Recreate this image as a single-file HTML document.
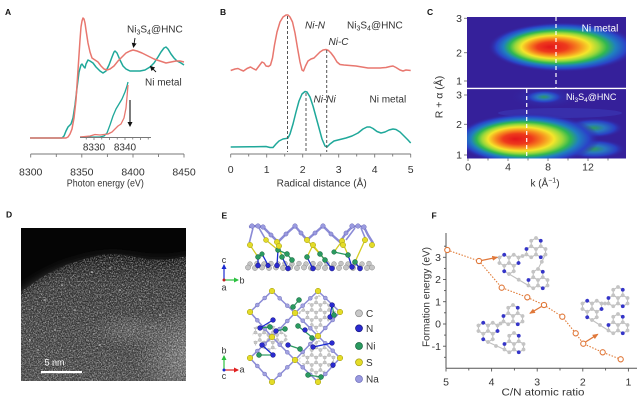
<!DOCTYPE html>
<html><head><meta charset="utf-8"><style>
html,body{margin:0;padding:0;background:#fff}
svg{display:block}
text{font-family:"Liberation Sans",Arial,sans-serif}
</style></head><body>
<svg width="640" height="400" viewBox="0 0 640 400" xmlns="http://www.w3.org/2000/svg">
<defs>
  <marker id="mk" markerWidth="5" markerHeight="5" refX="4" refY="2.5" orient="auto" markerUnits="userSpaceOnUse"><path d="M0,0 L5,2.5 L0,5 z" fill="#111"/></marker>
  <marker id="mo" markerWidth="6" markerHeight="6" refX="5" refY="3" orient="auto" markerUnits="userSpaceOnUse"><path d="M0,0.5 L6,3 L0,5.5 z" fill="#e0783a"/></marker>
  <marker id="mb" markerWidth="5" markerHeight="5" refX="4" refY="2.5" orient="auto" markerUnits="userSpaceOnUse"><path d="M0,0 L5,2.5 L0,5 z" fill="#1a2ad0"/></marker>
  <marker id="mg" markerWidth="5" markerHeight="5" refX="4" refY="2.5" orient="auto" markerUnits="userSpaceOnUse"><path d="M0,0 L5,2.5 L0,5 z" fill="#2cc040"/></marker>
  <marker id="mr" markerWidth="5" markerHeight="5" refX="4" refY="2.5" orient="auto" markerUnits="userSpaceOnUse"><path d="M0,0 L5,2.5 L0,5 z" fill="#e02020"/></marker>

  <radialGradient id="hmA" cx="0.5" cy="0.5" r="0.5" fx="0.41" fy="0.5">
    <stop offset="0" stop-color="#e3161b"/>
    <stop offset="0.2" stop-color="#ee3a1c"/>
    <stop offset="0.34" stop-color="#f7901f"/>
    <stop offset="0.46" stop-color="#f5e52b"/>
    <stop offset="0.56" stop-color="#9ad83a"/>
    <stop offset="0.65" stop-color="#30b850"/>
    <stop offset="0.75" stop-color="#1f7fc0"/>
    <stop offset="0.87" stop-color="#2a44c8"/>
    <stop offset="1" stop-color="#35209a" stop-opacity="0"/>
  </radialGradient>
  <radialGradient id="hmB" cx="0.5" cy="0.5" r="0.5">
    <stop offset="0" stop-color="#2f9a62"/>
    <stop offset="0.35" stop-color="#2a78c0"/>
    <stop offset="0.7" stop-color="#2a40c4"/>
    <stop offset="1" stop-color="#35209a" stop-opacity="0"/>
  </radialGradient>
  <radialGradient id="hmC" cx="0.5" cy="0.5" r="0.5">
    <stop offset="0" stop-color="#2848c8"/>
    <stop offset="1" stop-color="#35209a" stop-opacity="0"/>
  </radialGradient>
  <clipPath id="ct"><rect x="467" y="17" width="159" height="71"/></clipPath>
  <clipPath id="cb"><rect x="467" y="89" width="159" height="69.5"/></clipPath>

  <clipPath id="dimg"><rect x="21" y="228" width="165" height="153"/></clipPath>
  <clipPath id="dreg"><path d="M21,292 C35,281 55,268 75,262 C95,255 110,252 130,256 C150,260 165,262 186,256 L186,381 L21,381 Z"/></clipPath>
  <linearGradient id="dg" gradientUnits="userSpaceOnUse" x1="0" y1="252" x2="0" y2="381">
    <stop offset="0" stop-color="#1a1a1a"/>
    <stop offset="0.25" stop-color="#3e3e3e"/>
    <stop offset="1" stop-color="#505050"/>
  </linearGradient>
  <radialGradient id="dbr" cx="0.5" cy="0.5" r="0.5">
    <stop offset="0" stop-color="#fff" stop-opacity="0.35"/>
    <stop offset="1" stop-color="#fff" stop-opacity="0"/>
  </radialGradient>
  <filter id="blur5" x="-0.2" y="-0.2" width="1.4" height="1.4"><feGaussianBlur stdDeviation="5"/></filter>
  <filter id="spk" filterUnits="userSpaceOnUse" x="21" y="228" width="165" height="153">
    <feTurbulence type="fractalNoise" baseFrequency="0.75" numOctaves="2" seed="7"/>
    <feColorMatrix type="matrix" values="0 0 0 0 1  0 0 0 0 1  0 0 0 0 1  2.8 0 0 0 -1.15"/>
  </filter>
  <filter id="spk2" filterUnits="userSpaceOnUse" x="21" y="228" width="165" height="153">
    <feTurbulence type="fractalNoise" baseFrequency="0.8" numOctaves="2" seed="21"/>
    <feColorMatrix type="matrix" values="0 0 0 0 0  0 0 0 0 0  0 0 0 0 0  0 2.8 0 0 -1.15"/>
  </filter>

  <pattern id="hexp" patternUnits="userSpaceOnUse" width="8.66" height="15" x="0" y="0">
    <g stroke="#cfcfcf" stroke-width="1" fill="none">
      <line x1="0" y1="5" x2="4.33" y2="2.5"/><line x1="0" y1="5" x2="0" y2="10"/>
      <line x1="0" y1="10" x2="4.33" y2="12.5"/><line x1="4.33" y1="2.5" x2="8.66" y2="5"/>
      <line x1="4.33" y1="12.5" x2="8.66" y2="10"/><line x1="8.66" y1="5" x2="8.66" y2="10"/>
      <line x1="4.33" y1="2.5" x2="4.33" y2="0"/><line x1="4.33" y1="12.5" x2="4.33" y2="15"/>
    </g>
    <g fill="#c8c8c8" stroke="#a5a5a5" stroke-width="0.4">
      <circle cx="0" cy="5" r="1.6"/><circle cx="0" cy="10" r="1.6"/>
      <circle cx="8.66" cy="5" r="1.6"/><circle cx="8.66" cy="10" r="1.6"/>
      <circle cx="4.33" cy="2.5" r="1.6"/><circle cx="4.33" cy="12.5" r="1.6"/>
    </g>
  </pattern>

  <g id="hz">
    <g stroke="#c0c0c0" stroke-width="1.1" fill="none">
      <polygon points="4.76,8.25 0,5.5 0,0 4.76,-2.75 9.53,0 9.53,5.5"/>
      <polygon points="-4.76,8.25 -9.53,5.5 -9.53,0 -4.76,-2.75 0,0 0,5.5"/>
      <polygon points="0,0 -4.76,-2.75 -4.76,-8.25 0,-11 4.76,-8.25 4.76,-2.75"/>
    </g>
    <g fill="#c4c4c4">
      <circle cx="0" cy="0" r="1.9"/><circle cx="0" cy="5.5" r="1.9"/><circle cx="-4.76" cy="-2.75" r="1.9"/><circle cx="4.76" cy="-2.75" r="1.9"/>
      <circle cx="-4.76" cy="8.25" r="1.9"/><circle cx="9.53" cy="5.5" r="1.9"/><circle cx="-9.53" cy="5.5" r="1.9"/>
      <circle cx="0" cy="-11" r="1.9"/><circle cx="9.53" cy="0" r="1.9"/><circle cx="-4.76" cy="-8.25" r="1.9"/>
    </g>
    <g fill="#3535c8">
      <circle cx="4.76" cy="8.25" r="1.9"/><circle cx="-9.53" cy="0" r="1.9"/><circle cx="4.76" cy="-8.25" r="1.9"/>
    </g>
  </g>
</defs>

<!-- ================= PANEL A ================= -->
<text x="5" y="15" font-size="8.5" font-weight="bold" fill="#111">A</text>
<polyline fill="none" stroke="#1fa89a" stroke-width="1.5" stroke-linejoin="round" points="30,138 62,138 64,136 66,131 68,127 71,124 73,118 75,105 77,88 79,72 81,65 82,64 84,67 85,68 86,64 88,60 90,61 93,63 96,67 100,71 103,73 106,71 109,65 112,57 114,52 115,51 117,53 120,60 123,66 126,69 130,71 135,71 140,71 145,70 150,67 154,63 158,57 161,52 164,48 166,47 168,49 171,54 174,58 177,61 181,63 184,65"/>
<polyline fill="none" stroke="#e8776f" stroke-width="1.5" stroke-linejoin="round" points="30,138 66,138 68,137 70,134 72,129 74,118 76,100 78,70 80,40 81,27 82,21 83,18 84,19 85,23 86,30 88,43 90,52 92,58 95,60 98,62 101,66 104,69 107,70 110,69 114,66 118,61 122,57 126,53 130,51 133,50 137,51 142,53 148,56 154,59 160,61 166,63 171,62 176,61 180,61 184,62"/>
<!-- inset -->
<polyline fill="none" stroke="#1fa89a" stroke-width="1.3" stroke-linejoin="round" points="80,137 100,137 104,136 107,133 110,125 113,116 116,109 119,104 122,99 125,92 127,86 128,82"/>
<polyline fill="none" stroke="#e8776f" stroke-width="1.3" stroke-linejoin="round" points="80,137 90,136 95,134.5 100,135 108,134 112,132 115,129 118,126 121,124 124,118 126,108 127,97 128,85"/>
<line x1="80" y1="137.5" x2="151" y2="137.5" stroke="#777" stroke-width="0.9"/>
<g stroke="#777" stroke-width="0.8">
  <line x1="86.25" y1="137.5" x2="86.25" y2="139.5"/><line x1="94" y1="137.5" x2="94" y2="140"/><line x1="101.75" y1="137.5" x2="101.75" y2="139.5"/>
  <line x1="109.5" y1="137.5" x2="109.5" y2="140"/><line x1="117.25" y1="137.5" x2="117.25" y2="139.5"/><line x1="125" y1="137.5" x2="125" y2="140"/>
  <line x1="132.75" y1="137.5" x2="132.75" y2="139.5"/><line x1="140.5" y1="137.5" x2="140.5" y2="140"/><line x1="148.25" y1="137.5" x2="148.25" y2="139.5"/>
</g>
<text x="94" y="150.5" font-size="10" fill="#333" text-anchor="middle">8330</text>
<text x="125" y="150.5" font-size="10" fill="#333" text-anchor="middle">8340</text>
<line x1="130" y1="100" x2="130" y2="126" stroke="#111" stroke-width="1.1" marker-end="url(#mk)"/>
<!-- axis A -->
<line x1="30.7" y1="154" x2="184" y2="154" stroke="#777" stroke-width="1"/>
<g stroke="#777" stroke-width="0.9">
  <line x1="30.7" y1="154" x2="30.7" y2="157.5"/><line x1="56.3" y1="154" x2="56.3" y2="157"/><line x1="81.8" y1="154" x2="81.8" y2="157.5"/>
  <line x1="107.4" y1="154" x2="107.4" y2="157"/><line x1="133" y1="154" x2="133" y2="157.5"/><line x1="158.5" y1="154" x2="158.5" y2="157"/><line x1="184" y1="154" x2="184" y2="157.5"/>
</g>
<g font-size="10.5" fill="#333" text-anchor="middle">
  <text x="30.7" y="175.5">8300</text><text x="81.8" y="175.5">8350</text><text x="133" y="175.5">8400</text><text x="184" y="175.5">8450</text>
</g>
<text x="105.3" y="186.5" font-size="10" fill="#333" text-anchor="middle" textLength="77" lengthAdjust="spacingAndGlyphs">Photon energy (eV)</text>
<text x="127" y="32.5" font-size="10" fill="#333">Ni<tspan font-size="7" dy="2">3</tspan><tspan dy="-2">S</tspan><tspan font-size="7" dy="2">4</tspan><tspan dy="-2">@HNC</tspan></text>
<line x1="135" y1="38" x2="133.5" y2="47" stroke="#111" stroke-width="0.9" marker-end="url(#mk)"/>
<text x="145" y="85.3" font-size="10" fill="#333">Ni metal</text>
<line x1="156" y1="72" x2="150.5" y2="66.5" stroke="#111" stroke-width="0.9" marker-end="url(#mk)"/>

<!-- ================= PANEL B ================= -->
<text x="220" y="15" font-size="8.5" font-weight="bold" fill="#111">B</text>
<polyline fill="none" stroke="#e8776f" stroke-width="1.5" stroke-linejoin="round" points="230.7,70.5 235,69 238,68.5 241,70 243.5,71 247,68.5 250.5,67 253,68.5 256,70 259,66 262,62 264,63 266,66 268.5,66.5 270.5,65 272.5,58 274.5,45 277,32 280,22 283,17 286,15 288,15 290,17 292.5,22 295,33 297.5,48 300,62 302,70 303.5,71 305.5,66 308,61 311,59 314,58 317,55 320,52 323,50 326,49.5 328.5,50.5 331,53 334,57 337,62 340,64.5 344,65 350,65.5 356,66 362,67 368,68 374,68 380,68 386,67.5 390,66.5 393,66 396,67.5 400,70 403,71 406,70 410.7,70.5"/>
<polyline fill="none" stroke="#1fa89a" stroke-width="1.5" stroke-linejoin="round" points="230.7,147 250,146.8 266,146.5 270,147.5 273,147.5 276,144 279,141 283,139 286,138.5 288,138 290,134 293,124 296,112 299,101 302,94 305,91.5 307,92 310,97 313,106 316,117 319,128 322,139 325,146 327,147 330,144 334,141 340,139.5 346,138 352,136 358,133 363,129 367,127 370,127 373,128.5 377,131.5 381,133 385,132 389,130 393,129 396,129.5 400,132 404,136 408,140 410.7,143"/>
<g stroke="#555" stroke-width="1" stroke-dasharray="3,2">
  <line x1="287.5" y1="16" x2="287.5" y2="152"/>
  <line x1="306" y1="93" x2="306" y2="152"/>
  <line x1="326.7" y1="50" x2="326.7" y2="152"/>
</g>
<line x1="230.7" y1="154" x2="410.7" y2="154" stroke="#777" stroke-width="1"/>
<g stroke="#777" stroke-width="0.9">
  <line x1="230.7" y1="154" x2="230.7" y2="157.5"/><line x1="248.7" y1="154" x2="248.7" y2="156.5"/><line x1="266.7" y1="154" x2="266.7" y2="157.5"/>
  <line x1="284.7" y1="154" x2="284.7" y2="156.5"/><line x1="302.7" y1="154" x2="302.7" y2="157.5"/><line x1="320.7" y1="154" x2="320.7" y2="156.5"/>
  <line x1="338.7" y1="154" x2="338.7" y2="157.5"/><line x1="356.7" y1="154" x2="356.7" y2="156.5"/><line x1="374.7" y1="154" x2="374.7" y2="157.5"/>
  <line x1="392.7" y1="154" x2="392.7" y2="156.5"/><line x1="410.7" y1="154" x2="410.7" y2="157.5"/>
</g>
<g font-size="10.5" fill="#333" text-anchor="middle">
  <text x="230.7" y="173">0</text><text x="266.7" y="173">1</text><text x="302.7" y="173">2</text><text x="338.7" y="173">3</text><text x="374.7" y="173">4</text><text x="410.7" y="173">5</text>
</g>
<text x="321.7" y="186.5" font-size="10" fill="#333" text-anchor="middle" textLength="90" lengthAdjust="spacingAndGlyphs">Radical distance (Å)</text>
<text x="305" y="28.5" font-size="10" font-style="italic" fill="#333">Ni-N</text>
<text x="347" y="28.5" font-size="10" fill="#333">Ni<tspan font-size="7" dy="2">3</tspan><tspan dy="-2">S</tspan><tspan font-size="7" dy="2">4</tspan><tspan dy="-2">@HNC</tspan></text>
<text x="328.5" y="45" font-size="10" font-style="italic" fill="#333">Ni-C</text>
<text x="313.5" y="102.5" font-size="10" font-style="italic" fill="#333">Ni-Ni</text>
<text x="369.5" y="102.5" font-size="10" fill="#333">Ni metal</text>

<!-- ================= PANEL C ================= -->
<text x="427" y="15" font-size="8.5" font-weight="bold" fill="#111">C</text>
<g clip-path="url(#ct)">
  <rect x="467" y="17" width="159" height="71" fill="#35209a"/>
  <ellipse cx="563" cy="47" rx="75" ry="25" fill="url(#hmA)"/>
</g>
<g clip-path="url(#cb)">
  <rect x="467" y="89" width="159" height="70" fill="#35209a"/>
  <ellipse cx="560" cy="113" rx="62" ry="5" fill="#3a3ab8" opacity="0.6"/>
  <ellipse cx="545" cy="97" rx="36" ry="12" fill="url(#hmC)"/>
  <ellipse cx="544" cy="97" rx="20" ry="7" fill="url(#hmB)"/>
  <ellipse cx="594" cy="128" rx="30" ry="10" fill="url(#hmB)"/>
  <ellipse cx="594" cy="149" rx="32" ry="10" fill="url(#hmB)"/>
  <ellipse cx="528" cy="139" rx="72" ry="26" fill="url(#hmA)"/>
</g>
<line x1="467" y1="88.4" x2="626" y2="88.4" stroke="#fff" stroke-width="1.4"/>
<line x1="556" y1="17" x2="556" y2="88" stroke="#fff" stroke-width="1.2" stroke-dasharray="4,3"/>
<line x1="526.7" y1="89" x2="526.7" y2="158" stroke="#fff" stroke-width="1.2" stroke-dasharray="4,3"/>
<g stroke="#777" stroke-width="0.9">
  <line x1="464" y1="18.3" x2="467" y2="18.3"/><line x1="464" y1="52.7" x2="467" y2="52.7"/><line x1="464" y1="81" x2="467" y2="81"/>
  <line x1="464" y1="95" x2="467" y2="95"/><line x1="464" y1="124.3" x2="467" y2="124.3"/><line x1="464" y1="155" x2="467" y2="155"/>
  <line x1="468" y1="158.5" x2="468" y2="161"/><line x1="488" y1="158.5" x2="488" y2="160.5"/><line x1="508" y1="158.5" x2="508" y2="161"/>
  <line x1="528" y1="158.5" x2="528" y2="160.5"/><line x1="548" y1="158.5" x2="548" y2="161"/><line x1="568" y1="158.5" x2="568" y2="160.5"/>
  <line x1="588" y1="158.5" x2="588" y2="161"/><line x1="608" y1="158.5" x2="608" y2="160.5"/>
</g>
<g font-size="10.5" fill="#333" text-anchor="end">
  <text x="462" y="22">3</text><text x="462" y="56.4">2</text><text x="462" y="84.7">1</text>
  <text x="462" y="98.7">3</text><text x="462" y="128">2</text><text x="462" y="158.7">1</text>
</g>
<g font-size="10.5" fill="#333" text-anchor="middle">
  <text x="468" y="170.5">0</text><text x="508" y="170.5">4</text><text x="548" y="170.5">8</text><text x="588" y="170.5">12</text>
</g>
<text x="545" y="186.5" font-size="10" fill="#333" text-anchor="middle">k (Å<tspan font-size="7" dy="-4">−1</tspan><tspan dy="4">)</tspan></text>
<text transform="translate(442.5,97) rotate(-90)" font-size="10.5" fill="#333" text-anchor="middle">R + α (Å)</text>
<text x="600" y="31.5" font-size="10" fill="#fff" text-anchor="middle">Ni metal</text>
<text x="566" y="100" font-size="9" fill="#fff">Ni<tspan font-size="6.5" dy="2">3</tspan><tspan dy="-2">S</tspan><tspan font-size="6.5" dy="2">4</tspan><tspan dy="-2">@HNC</tspan></text>

<!-- ================= PANEL D ================= -->
<text x="6" y="217.3" font-size="8.5" font-weight="bold" fill="#111">D</text>
<g clip-path="url(#dimg)">
  <rect x="21" y="228" width="165" height="153" fill="#050505"/>
  <path d="M21,292 C35,281 55,268 75,262 C95,255 110,252 130,256 C150,260 165,262 186,256 L196,256 L196,395 L10,395 L10,300 Z" fill="url(#dg)" filter="url(#blur5)"/>
  <ellipse cx="190" cy="355" rx="55" ry="55" fill="url(#dbr)"/>
  <ellipse cx="130" cy="330" rx="40" ry="18" fill="url(#dbr)" opacity="0.5"/>
  <g clip-path="url(#dreg)">
    <rect x="21" y="228" width="165" height="153" filter="url(#spk)" opacity="0.55"/>
    <rect x="21" y="228" width="165" height="153" filter="url(#spk2)" opacity="0.45"/>
  </g>
  <g fill="#ddd">
    <circle cx="45" cy="300" r="0.8"/><circle cx="62" cy="285" r="0.8"/><circle cx="92" cy="272" r="0.8"/><circle cx="110" cy="268" r="0.7"/>
    <circle cx="75" cy="310" r="0.8"/><circle cx="140" cy="300" r="0.7"/><circle cx="55" cy="330" r="0.8"/><circle cx="30" cy="340" r="0.8"/>
    <circle cx="120" cy="290" r="0.7"/><circle cx="160" cy="315" r="0.8"/><circle cx="100" cy="345" r="0.7"/><circle cx="38" cy="350" r="0.7"/>
  </g>
  <rect x="41" y="371" width="41" height="2.2" fill="#fff"/>
  <text x="44.5" y="365.5" font-size="9" fill="#fff">5 nm</text>
</g>

<!-- ================= PANEL E ================= -->
<text x="221.5" y="218.3" font-size="8.5" font-weight="bold" fill="#111">E</text>
<!-- top view -->
<g>
  <polyline fill="none" stroke="#8b8bd6" stroke-width="2.4" stroke-linejoin="round" points="249,227 256,226 263,227 271,235 278,242 286,234 295,226 301,233 307,240 315,233 323,226 331,234 340,242 346,233 352,227 358,226 364,227 368,235 373,243"/>
  <g stroke="#8b8bd6" stroke-width="1.6"><line x1="253" y1="228" x2="249" y2="244"/><line x1="259" y1="228" x2="266" y2="240"/><line x1="355" y1="228" x2="346" y2="240"/><line x1="361" y1="228" x2="366" y2="240"/></g>
  <g stroke="#d4cc20" stroke-width="1.3">
    <line x1="250" y1="245" x2="258" y2="257"/><line x1="278" y1="243" x2="282" y2="257"/><line x1="307" y1="240" x2="320" y2="254"/>
    <line x1="313" y1="245" x2="307" y2="257"/><line x1="342" y1="241" x2="348" y2="255"/><line x1="365" y1="240" x2="355" y2="262"/>
    <line x1="266" y1="240" x2="278" y2="250"/><line x1="313" y1="245" x2="325" y2="260"/><line x1="342" y1="241" x2="334" y2="252"/>
  </g>
  <g fill="#c4c4c4" stroke="#8e8e8e" stroke-width="0.5">
    <circle cx="250" cy="264" r="2.4"/><circle cx="257" cy="263.5" r="2.4"/><circle cx="264" cy="264" r="2.4"/><circle cx="271" cy="263.5" r="2.4"/><circle cx="278" cy="264" r="2.4"/><circle cx="285" cy="263.5" r="2.4"/><circle cx="292" cy="264" r="2.4"/><circle cx="299" cy="263.5" r="2.4"/><circle cx="306" cy="264" r="2.4"/><circle cx="313" cy="263.5" r="2.4"/><circle cx="320" cy="264" r="2.4"/><circle cx="327" cy="263.5" r="2.4"/><circle cx="334" cy="264" r="2.4"/><circle cx="341" cy="263.5" r="2.4"/><circle cx="348" cy="264" r="2.4"/><circle cx="355" cy="263.5" r="2.4"/><circle cx="362" cy="264" r="2.4"/><circle cx="369" cy="263.5" r="2.4"/>
    <circle cx="248" cy="267.5" r="2.6"/><circle cx="255" cy="268" r="2.6"/><circle cx="262" cy="267.5" r="2.6"/><circle cx="269" cy="268" r="2.6"/><circle cx="276" cy="267.5" r="2.6"/><circle cx="283" cy="268" r="2.6"/><circle cx="290" cy="267.5" r="2.6"/><circle cx="297" cy="268" r="2.6"/><circle cx="304" cy="267.5" r="2.6"/><circle cx="311" cy="268" r="2.6"/><circle cx="318" cy="267.5" r="2.6"/><circle cx="325" cy="268" r="2.6"/><circle cx="332" cy="267.5" r="2.6"/><circle cx="339" cy="268" r="2.6"/><circle cx="346" cy="267.5" r="2.6"/><circle cx="353" cy="268" r="2.6"/><circle cx="360" cy="267.5" r="2.6"/><circle cx="367" cy="268" r="2.6"/><circle cx="372" cy="267.5" r="2.6"/>
  </g>
  <g stroke="#1a2ad0" stroke-width="1.3">
    <line x1="258" y1="257" x2="258" y2="266"/><line x1="282" y1="257" x2="288" y2="269"/><line x1="278" y1="250" x2="277" y2="265"/>
    <line x1="307" y1="257" x2="313" y2="269"/><line x1="325" y1="260" x2="332" y2="269"/><line x1="348" y1="255" x2="352" y2="267"/><line x1="355" y1="262" x2="360" y2="269"/>
    <line x1="262" y1="254" x2="268" y2="265"/>
  </g>
  <g stroke="#2a9a60" stroke-width="1.3">
    <line x1="287" y1="254" x2="292" y2="260"/><line x1="320" y1="254" x2="325" y2="260"/><line x1="278" y1="250" x2="287" y2="254"/><line x1="334" y1="252" x2="348" y2="255"/>
  </g>
  <g fill="#2a2ad0" stroke="#14147a" stroke-width="0.5">
    <circle cx="258" cy="265.5" r="2.5"/><circle cx="277" cy="265.5" r="2.5"/><circle cx="288" cy="268.5" r="2.5"/><circle cx="313" cy="268.5" r="2.5"/><circle cx="332" cy="268.5" r="2.5"/><circle cx="352" cy="267" r="2.5"/><circle cx="360" cy="268.5" r="2.5"/><circle cx="268" cy="265.5" r="2.3"/>
  </g>
  <g fill="#2a9a60" stroke="#14603a" stroke-width="0.5">
    <circle cx="258" cy="257" r="2.5"/><circle cx="278" cy="250" r="2.5"/><circle cx="282" cy="257" r="2.5"/><circle cx="287" cy="254" r="2.5"/><circle cx="292" cy="260" r="2.5"/><circle cx="307" cy="257" r="2.5"/><circle cx="320" cy="254" r="2.5"/><circle cx="325" cy="260" r="2.5"/><circle cx="348" cy="255" r="2.5"/><circle cx="355" cy="262" r="2.5"/><circle cx="262" cy="254" r="2.3"/><circle cx="334" cy="252" r="2.3"/>
  </g>
  <g fill="#e4dc28" stroke="#a09a10" stroke-width="0.5">
    <circle cx="250" cy="245" r="2.7"/><circle cx="277" cy="242" r="2.7"/><circle cx="279" cy="246" r="2.7"/><circle cx="307" cy="240" r="2.7"/><circle cx="313" cy="245" r="2.7"/><circle cx="342" cy="241" r="2.7"/><circle cx="343" cy="245" r="2.7"/><circle cx="365" cy="240" r="2.7"/><circle cx="372" cy="245" r="2.7"/><circle cx="266" cy="240" r="2.5"/>
  </g>
  <g fill="#9a9ae0" stroke="#6a6ab8" stroke-width="0.5">
    <circle cx="252" cy="226" r="2.3"/><circle cx="258" cy="226" r="2.3"/><circle cx="263" cy="227" r="2.3"/><circle cx="295" cy="226" r="2.3"/><circle cx="323" cy="226" r="2.3"/><circle cx="352" cy="226" r="2.3"/><circle cx="358" cy="226" r="2.3"/><circle cx="364" cy="227" r="2.3"/>
    <circle cx="271" cy="235" r="2.1"/><circle cx="286" cy="234" r="2.1"/><circle cx="301" cy="233" r="2.1"/><circle cx="315" cy="233" r="2.1"/><circle cx="331" cy="234" r="2.1"/><circle cx="346" cy="233" r="2.1"/>
  </g>
</g>
<!-- axes indicators -->
<line x1="224" y1="280" x2="224" y2="265" stroke="#1a2ad0" stroke-width="1.2" marker-end="url(#mb)"/>
<line x1="224" y1="280" x2="238" y2="280" stroke="#2cc040" stroke-width="1.2" marker-end="url(#mg)"/>
<circle cx="224" cy="280" r="1.5" fill="#c02020"/>
<text x="224" y="263" font-size="9" fill="#333" text-anchor="middle">c</text>
<text x="239.5" y="283.5" font-size="9" fill="#333">b</text>
<text x="224" y="290.5" font-size="9" fill="#333" text-anchor="middle">a</text>
<line x1="224" y1="370" x2="224" y2="356" stroke="#2cc040" stroke-width="1.2" marker-end="url(#mg)"/>
<line x1="224" y1="370" x2="238" y2="370" stroke="#e02020" stroke-width="1.2" marker-end="url(#mr)"/>
<circle cx="224" cy="370" r="1.5" fill="#1a2ad0"/>
<text x="224" y="353.5" font-size="9" fill="#333" text-anchor="middle">b</text>
<text x="239.5" y="372.5" font-size="9" fill="#333">a</text>
<text x="224" y="379" font-size="9" fill="#333" text-anchor="middle">c</text>
<!-- bottom view -->
<g>
  <polygon points="318,294 337,312 318,333 298,313" fill="url(#hexp)"/>
  <polygon points="318,339 337,358 318,379 298,360" fill="url(#hexp)"/>
  <polygon points="252,328 270,322 290,338 272,352 254,345" fill="url(#hexp)"/>
  <g stroke="#8b8bd6" stroke-width="1.5">
    <line x1="272" y1="291" x2="250" y2="312"/><line x1="272" y1="291" x2="295" y2="313"/><line x1="318" y1="291" x2="295" y2="313"/><line x1="318" y1="291" x2="340" y2="312"/>
    <line x1="250" y1="312" x2="272" y2="337"/><line x1="295" y1="313" x2="272" y2="337"/><line x1="295" y1="313" x2="318" y2="336"/><line x1="340" y1="312" x2="318" y2="336"/>
    <line x1="272" y1="337" x2="250" y2="358"/><line x1="272" y1="337" x2="295" y2="360"/><line x1="318" y1="336" x2="295" y2="360"/><line x1="318" y1="336" x2="340" y2="358"/>
    <line x1="250" y1="358" x2="272" y2="382"/><line x1="295" y1="360" x2="272" y2="382"/><line x1="295" y1="360" x2="318" y2="382"/><line x1="340" y1="358" x2="318" y2="382"/>
  </g>
  <g fill="#a2a2e2" stroke="#7474bc" stroke-width="0.5">
    <circle cx="264.7" cy="298" r="2"/><circle cx="257.3" cy="305" r="2"/><circle cx="279.7" cy="298.3" r="2"/><circle cx="287.3" cy="305.7" r="2"/>
    <circle cx="310.3" cy="298.3" r="2"/><circle cx="302.7" cy="305.7" r="2"/><circle cx="325.3" cy="298" r="2"/><circle cx="332.7" cy="305" r="2"/>
    <circle cx="257.3" cy="320.3" r="2"/><circle cx="264.7" cy="328.7" r="2"/><circle cx="287.3" cy="321" r="2"/><circle cx="279.7" cy="329" r="2"/>
    <circle cx="302.7" cy="320.7" r="2"/><circle cx="310.3" cy="328.3" r="2"/><circle cx="332.7" cy="320" r="2"/><circle cx="325.3" cy="328" r="2"/>
    <circle cx="264.7" cy="344" r="2"/><circle cx="257.3" cy="351" r="2"/><circle cx="279.7" cy="344.7" r="2"/><circle cx="287.3" cy="352.3" r="2"/>
    <circle cx="310.3" cy="344" r="2"/><circle cx="302.7" cy="352" r="2"/><circle cx="325.3" cy="343.3" r="2"/><circle cx="332.7" cy="350.7" r="2"/>
    <circle cx="257.3" cy="366" r="2"/><circle cx="264.7" cy="374" r="2"/><circle cx="287.3" cy="367.3" r="2"/><circle cx="279.7" cy="374.7" r="2"/>
    <circle cx="302.7" cy="367.3" r="2"/><circle cx="310.3" cy="374.7" r="2"/><circle cx="332.7" cy="366" r="2"/><circle cx="325.3" cy="374" r="2"/>
  </g>
  <g stroke="#2a9a60" stroke-width="1.2">
    <line x1="270" y1="327" x2="260" y2="328"/><line x1="299" y1="300" x2="293" y2="307"/><line x1="298" y1="326" x2="313" y2="338"/>
    <line x1="259" y1="355" x2="273" y2="355"/><line x1="300" y1="349" x2="288" y2="345"/><line x1="308" y1="375" x2="321" y2="377"/>
    <line x1="334" y1="315" x2="332" y2="305"/><line x1="285" y1="329" x2="276" y2="331"/>
  </g>
  <g stroke="#1a2ad0" stroke-width="1.2">
    <line x1="273" y1="320" x2="260" y2="328"/><line x1="262" y1="345" x2="273" y2="355"/><line x1="313" y1="347" x2="332" y2="343"/><line x1="330" y1="317" x2="332" y2="305"/>
  </g>
  <g fill="#2a2ad0" stroke="#14147a" stroke-width="0.5">
    <circle cx="273" cy="320" r="2.4"/><circle cx="260" cy="328" r="2.4"/><circle cx="262" cy="345" r="2.4"/><circle cx="273" cy="355" r="2.4"/>
    <circle cx="288" cy="345" r="2.4"/><circle cx="276" cy="331" r="2.4"/><circle cx="313" cy="347" r="2.4"/><circle cx="332" cy="343" r="2.4"/>
    <circle cx="333" cy="365" r="2.4"/><circle cx="330" cy="317" r="2.4"/><circle cx="332" cy="305" r="2.4"/><circle cx="305" cy="330" r="2.4"/>
  </g>
  <g fill="#2a9a60" stroke="#14603a" stroke-width="0.5">
    <circle cx="299" cy="300" r="2.5"/><circle cx="293" cy="307" r="2.5"/><circle cx="298" cy="326" r="2.5"/><circle cx="270" cy="327" r="2.5"/>
    <circle cx="259" cy="355" r="2.5"/><circle cx="300" cy="349" r="2.5"/><circle cx="308" cy="375" r="2.5"/><circle cx="321" cy="377" r="2.5"/>
    <circle cx="334" cy="315" r="2.5"/><circle cx="312" cy="338" r="2.5"/><circle cx="285" cy="329" r="2.5"/>
  </g>
  <g fill="#e4dc28" stroke="#a09a10" stroke-width="0.5">
    <circle cx="272" cy="291" r="2.8"/><circle cx="318" cy="291" r="2.8"/><circle cx="250" cy="312" r="2.8"/><circle cx="295" cy="313" r="2.8"/>
    <circle cx="340" cy="312" r="2.8"/><circle cx="272" cy="337" r="2.8"/><circle cx="318" cy="336" r="2.8"/><circle cx="250" cy="358" r="2.8"/>
    <circle cx="295" cy="360" r="2.8"/><circle cx="340" cy="358" r="2.8"/><circle cx="272" cy="382" r="2.8"/><circle cx="318" cy="382" r="2.8"/>
  </g>
</g>
<!-- legend -->
<circle cx="359" cy="313.3" r="3.5" fill="#c8c8c8" stroke="#888" stroke-width="0.7"/>
<circle cx="359" cy="328.3" r="3.5" fill="#2a2ad0" stroke="#14147a" stroke-width="0.7"/>
<circle cx="359" cy="346" r="3.5" fill="#2a9a60" stroke="#14603a" stroke-width="0.7"/>
<circle cx="359" cy="362.3" r="3.5" fill="#e4dc28" stroke="#a09a10" stroke-width="0.7"/>
<circle cx="359" cy="379" r="3.5" fill="#9a9ae0" stroke="#6a6ab8" stroke-width="0.7"/>
<g font-size="10" fill="#333">
  <text x="366" y="316.8">C</text><text x="366" y="331.8">N</text><text x="366" y="349.5">Ni</text><text x="366" y="365.8">S</text><text x="366" y="382.5">Na</text>
</g>

<!-- ================= PANEL F ================= -->
<text x="431.5" y="218.3" font-size="8.5" font-weight="bold" fill="#111">F</text>
<line x1="446" y1="233" x2="446" y2="368.3" stroke="#555" stroke-width="1"/>
<line x1="446" y1="368.3" x2="637" y2="368.3" stroke="#555" stroke-width="1"/>
<g stroke="#555" stroke-width="0.9">
  <line x1="443" y1="257.3" x2="446" y2="257.3"/><line x1="443" y1="279.5" x2="446" y2="279.5"/><line x1="443" y1="301.7" x2="446" y2="301.7"/>
  <line x1="443" y1="324" x2="446" y2="324"/><line x1="443" y1="346.2" x2="446" y2="346.2"/>
  <line x1="444" y1="246.2" x2="446" y2="246.2"/><line x1="444" y1="268.4" x2="446" y2="268.4"/><line x1="444" y1="290.6" x2="446" y2="290.6"/>
  <line x1="444" y1="312.8" x2="446" y2="312.8"/><line x1="444" y1="335.1" x2="446" y2="335.1"/><line x1="444" y1="357.3" x2="446" y2="357.3"/>
  <line x1="446" y1="368.3" x2="446" y2="371.5"/><line x1="468.8" y1="368.3" x2="468.8" y2="370.5"/><line x1="491.6" y1="368.3" x2="491.6" y2="371.5"/>
  <line x1="514.4" y1="368.3" x2="514.4" y2="370.5"/><line x1="537.2" y1="368.3" x2="537.2" y2="371.5"/><line x1="560" y1="368.3" x2="560" y2="370.5"/>
  <line x1="582.8" y1="368.3" x2="582.8" y2="371.5"/><line x1="605.6" y1="368.3" x2="605.6" y2="370.5"/><line x1="628.4" y1="368.3" x2="628.4" y2="371.5"/>
</g>
<g font-size="10.5" fill="#333" text-anchor="end">
  <text x="441" y="261">3</text><text x="441" y="283.2">2</text><text x="441" y="305.4">1</text><text x="441" y="327.7">0</text><text x="441" y="349.9">-1</text>
</g>
<g font-size="10.5" fill="#333" text-anchor="middle">
  <text x="446" y="385.5">5</text><text x="491.6" y="385.5">4</text><text x="537.2" y="385.5">3</text><text x="582.8" y="385.5">2</text><text x="628.4" y="385.5">1</text>
</g>
<text x="543" y="395.5" font-size="10.5" fill="#333" text-anchor="middle" textLength="83" lengthAdjust="spacingAndGlyphs">C/N atomic ratio</text>
<text transform="translate(429.5,297) rotate(-90)" font-size="10" fill="#333" text-anchor="middle" textLength="100" lengthAdjust="spacingAndGlyphs">Formation energy (eV)</text>
<!-- fragments -->
<g>
  <g stroke="#c0c0c0" stroke-width="1.1">
    <line x1="526.5" y1="254.5" x2="518.5" y2="257.5"/><line x1="509" y1="274" x2="528.5" y2="285.5"/><line x1="545.5" y1="254.5" x2="538" y2="269"/>
    <line x1="608.5" y1="303.5" x2="601.5" y2="303.5"/><line x1="592" y1="320" x2="608.5" y2="330.5"/>
    <line x1="503.5" y1="321.5" x2="497.5" y2="325.5"/><line x1="488" y1="342" x2="504.5" y2="349.5"/>
  </g>
  <g fill="#c4c4c4">
    <circle cx="522.5" cy="256" r="1.9"/><circle cx="518.7" cy="279.7" r="1.9"/><circle cx="541.8" cy="261.8" r="1.9"/>
    <circle cx="605" cy="303.5" r="1.9"/><circle cx="600" cy="325" r="1.9"/>
    <circle cx="500.5" cy="323.5" r="1.9"/><circle cx="496" cy="346" r="1.9"/>
  </g>
  <use href="#hz" transform="translate(536,249)"/>
  <use href="#hz" transform="translate(509,263) rotate(60)"/>
  <use href="#hz" transform="translate(538,280)"/>
  <use href="#hz" transform="translate(618,298)"/>
  <use href="#hz" transform="translate(592,309) rotate(60)"/>
  <use href="#hz" transform="translate(618,325)"/>
  <use href="#hz" transform="translate(513,316)"/>
  <use href="#hz" transform="translate(488,331) rotate(60)"/>
  <use href="#hz" transform="translate(514,344)"/>
</g>
<polyline fill="none" stroke="#e07a35" stroke-width="1.1" stroke-dasharray="1.5,1.5" points="447.3,250 479,261 501.7,287.7 527.3,297.3 544,305 562.3,316.7 575.7,333.3 583.3,343.7 602.7,352.3 620.7,359.3"/>
<g fill="#fff" stroke="#e0783a" stroke-width="1.1">
  <circle cx="447.3" cy="250" r="2.6"/><circle cx="479" cy="261" r="2.6"/><circle cx="501.7" cy="287.7" r="2.6"/><circle cx="527.3" cy="297.3" r="2.6"/>
  <circle cx="544" cy="305" r="2.6"/><circle cx="562.3" cy="316.7" r="2.6"/><circle cx="575.7" cy="333.3" r="2.6"/><circle cx="583.3" cy="343.7" r="2.6"/>
  <circle cx="602.7" cy="352.3" r="2.6"/><circle cx="620.7" cy="359.3" r="2.6"/>
</g>
<g stroke="#e0783a" stroke-width="1.3">
  <line x1="481.5" y1="260.5" x2="497.3" y2="257.3" marker-end="url(#mo)"/>
  <line x1="541.5" y1="306.5" x2="530" y2="313.3" marker-end="url(#mo)"/>
  <line x1="585.5" y1="342" x2="597.7" y2="334.3" marker-end="url(#mo)"/>
</g>
</svg>
</body></html>
